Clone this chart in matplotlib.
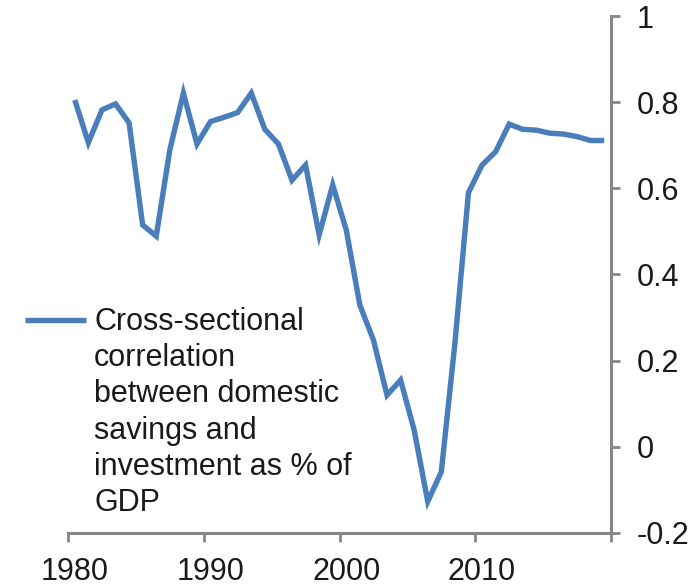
import matplotlib
matplotlib.use("Agg")
import matplotlib.pyplot as plt
from matplotlib.ticker import FixedLocator, FuncFormatter

years = list(range(1980, 2020))
correlation = [0.805, 0.706, 0.782, 0.796, 0.752, 0.515, 0.489, 0.689, 0.821, 0.703,
               0.755, 0.765, 0.776, 0.821, 0.737, 0.703, 0.619, 0.654, 0.492, 0.608,
               0.503, 0.329, 0.248, 0.120, 0.155, 0.039, -0.127, -0.058, 0.240, 0.590,
               0.654, 0.685, 0.749, 0.737, 0.735, 0.728, 0.726, 0.720, 0.711, 0.711]
series_label = ("Cross-sectional\ncorrelation\nbetween domestic\nsavings and\n"
                "investment as % of\nGDP")
x_labels = ["1980", "1990", "2000", "2010"]
y_ticks = [-0.2, 0, 0.2, 0.4, 0.6, 0.8, 1.0]

plt.rcParams['font.family'] = ['Liberation Sans', 'DejaVu Sans']

fig = plt.figure(figsize=(6.97, 5.86), dpi=100)
ax = fig.add_axes([68/697, 1 - 533/586, (611 - 68)/697, (533 - 16)/586])

line_color = "#4A7EBB"
axis_color = "#868686"
text_color = "#1a1a1a"

ax.plot(years, correlation, color=line_color, lw=3.9, solid_joinstyle="miter",
        solid_capstyle="butt", label=series_label)

ax.set_xlim(years[0] - 0.5, years[-1] + 0.5)
ax.set_ylim(y_ticks[0], y_ticks[-1])

# major ticks between categories (no labels), minor ticks carry labels
ax.xaxis.set_major_locator(FixedLocator([years[0] - 0.5 + 10 * k for k in range(5)]))
ax.xaxis.set_major_formatter(FuncFormatter(lambda v, p: ""))
ax.xaxis.set_minor_locator(FixedLocator([int(s) for s in x_labels]))
ax.xaxis.set_minor_formatter(FuncFormatter(lambda v, p: f"{int(round(v))}"))
ax.tick_params(axis="x", which="major", direction="out", length=6.5, width=2,
               color=axis_color)
ax.tick_params(axis="x", which="minor", length=0, pad=17, labelsize=22,
               labelcolor=text_color)

ax.yaxis.tick_right()
ax.set_yticks(y_ticks)
ax.yaxis.set_major_formatter(FuncFormatter(lambda v, p: f"{v:g}".replace("\u2212", "-")))
ax.tick_params(axis="y", which="major", direction="out", length=6.5, width=2,
               color=axis_color, pad=12, labelsize=22, labelcolor=text_color)

for s in ["left", "top"]:
    ax.spines[s].set_visible(False)
for s in ["right", "bottom"]:
    ax.spines[s].set_color(axis_color)
    ax.spines[s].set_linewidth(2.2)

leg = ax.legend(loc="upper left", bbox_to_anchor=(25/697, 1 - 307/586),
                bbox_transform=fig.transFigure, frameon=False, fontsize=22,
                handlelength=2.0, handletextpad=0.26, handleheight=1.25,
                borderpad=0, borderaxespad=0)
for t in leg.get_texts():
    t.set_color(text_color)
    t.set_linespacing(1.27)
for col in leg._legend_handle_box.get_children():
    for item in col.get_children():
        item.align = "top"

fig.savefig("out.png", dpi=100)
